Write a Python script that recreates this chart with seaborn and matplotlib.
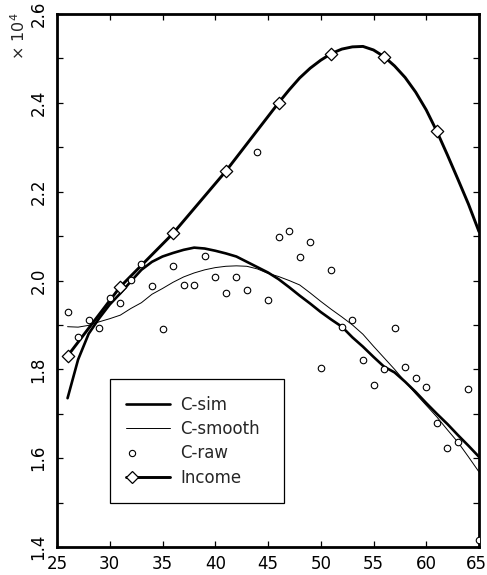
import numpy as np
import matplotlib
matplotlib.use("Agg")
import matplotlib.pyplot as plt
import matplotlib.transforms as mtransforms
from matplotlib.lines import Line2D
from matplotlib.legend_handler import HandlerLine2D
from matplotlib.ticker import MultipleLocator, FormatStrFormatter
import seaborn as sns

# Consumption profiles by age (values in units of 10^4)
ages = list(range(26, 66))

c_raw = [1.930, 1.873, 1.911, 1.893, 1.960, 1.950, 2.001, 2.038, 1.988, 1.891,
         2.033, 1.990, 1.990, 2.056, 2.009, 1.972, 2.008, 1.978, 2.289, 1.957,
         2.098, 2.112, 2.053, 2.086, 1.803, 2.023, 1.896, 1.911, 1.821, 1.764,
         1.801, 1.894, 1.806, 1.781, 1.761, 1.679, 1.624, 1.637, 1.756, 1.415]

c_sim = [1.735, 1.822, 1.880, 1.915, 1.946, 1.971, 1.998, 2.024, 2.042, 2.054,
         2.062, 2.069, 2.074, 2.072, 2.067, 2.061, 2.054, 2.042, 2.030, 2.018,
         2.003, 1.985, 1.966, 1.948, 1.929, 1.912, 1.896, 1.872, 1.851, 1.828,
         1.806, 1.793, 1.772, 1.749, 1.724, 1.700, 1.677, 1.652, 1.628, 1.603]

c_smooth = [1.896, 1.895, 1.899, 1.907, 1.914, 1.922, 1.937, 1.950, 1.969, 1.982,
            1.996, 2.008, 2.017, 2.024, 2.029, 2.032, 2.033, 2.032, 2.026, 2.016,
            2.009, 2.000, 1.990, 1.972, 1.953, 1.935, 1.918, 1.900, 1.879, 1.852,
            1.826, 1.800, 1.772, 1.745, 1.719, 1.693, 1.664, 1.636, 1.603, 1.569]

# Income profile
income_ages = [26, 31, 36, 41, 46, 47, 48, 49, 50, 51, 52, 53, 54, 55, 56,
               57, 58, 59, 60, 61, 62, 63, 64, 65]
income = [1.830, 1.986, 2.106, 2.246, 2.400, 2.429, 2.456, 2.478, 2.496, 2.511,
          2.521, 2.526, 2.527, 2.519, 2.504, 2.483, 2.457, 2.424, 2.384, 2.336,
          2.283, 2.228, 2.172, 2.110]
income_marker_ages = [26, 31, 36, 41, 46, 51, 56, 61]

x_ticks = [25, 30, 35, 40, 45, 50, 55, 60, 65]
y_ticks = [1.4, 1.6, 1.8, 2.0, 2.2, 2.4, 2.6]

series_labels = ["C-sim", "C-smooth", "C-raw", "Income"]

sns.set_theme(style="ticks")
plt.rcParams["font.family"] = ["DejaVu Sans"]
plt.rcParams["mathtext.default"] = "regular"

W, H = 487, 575
fig = plt.figure(figsize=(W / 100, H / 100), dpi=100)
ax = fig.add_axes([57 / W, 1 - 547 / H, (479 - 57) / W, (547 - 14) / H])

sns.lineplot(x=ages, y=c_sim, ax=ax, color="black", linewidth=1.9,
             estimator=None, sort=False)
sns.lineplot(x=ages, y=c_smooth, ax=ax, color="black", linewidth=0.7,
             estimator=None, sort=False)
sns.scatterplot(x=ages, y=c_raw, ax=ax, marker="o", s=22, facecolor="white",
                edgecolor="black", linewidth=0.8, zorder=3, clip_on=True)
sns.lineplot(x=income_ages, y=income, ax=ax, color="black", linewidth=2.1,
             estimator=None, sort=False)
inc_lookup = dict(zip(income_ages, income))
sns.scatterplot(x=income_marker_ages, y=[inc_lookup[a] for a in income_marker_ages],
                ax=ax, marker="D", s=40, facecolor="white", edgecolor="black",
                linewidth=0.9, zorder=4)

ax.set_xlim(25, 65)
ax.set_ylim(1.4, 2.6)
ax.set_xticks(x_ticks)
ax.set_xticklabels([str(t) for t in x_ticks])
ax.set_yticks(y_ticks)
ax.yaxis.set_major_formatter(FormatStrFormatter("%.1f"))
ax.yaxis.set_minor_locator(MultipleLocator(0.1))

for side in ["left", "right", "top", "bottom"]:
    ax.spines[side].set_visible(True)
    ax.spines[side].set_linewidth(2.0)
    ax.spines[side].set_color("black")

ax.tick_params(which="both", direction="in", length=4, width=0.9,
               top=True, right=True, colors="black", labelsize=12)
ax.tick_params(axis="y", labelrotation=90, pad=7)
ax.tick_params(axis="x", pad=6)
for lab in ax.get_yticklabels():
    lab.set_va("center")

# keep the last age label inside the figure edge
last_lab = ax.get_xticklabels()[-1]
last_lab.set_transform(last_lab.get_transform() +
                       mtransforms.ScaledTranslation(-3 / 100, 0, fig.dpi_scale_trans))

fig.text(19 / W, 1 - 36 / H, "× 10$^{4}$", rotation=90, ha="center",
         va="center", fontsize=11.5)


class HandlerLeftMarker(HandlerLine2D):
    """Legend line with its marker placed near the left end."""

    def create_artists(self, legend, orig_handle, xdescent, ydescent,
                       width, height, fontsize, trans):
        x0 = -xdescent
        x1 = x0 + legend.handlelength * fontsize
        xdata = np.array([x0, x0 + 0.13 * (x1 - x0), x1])
        ydata = np.full_like(xdata, (height - ydescent) / 2)
        legline = Line2D(xdata, ydata, markevery=[1])
        self.update_prop(legline, orig_handle, legend)
        legline.set_transform(trans)
        return [legline]


handles = [
    Line2D([], [], color="black", linewidth=1.9),
    Line2D([], [], color="black", linewidth=0.7),
    Line2D([], [], linestyle="none", marker="o", markersize=4.5,
           markerfacecolor="white", markeredgecolor="black", markeredgewidth=0.8),
    Line2D([], [], color="black", linewidth=2.1, marker="D", markersize=6.5,
           markerfacecolor="white", markeredgecolor="black", markeredgewidth=0.9),
]
leg = ax.legend(handles, series_labels, loc="lower left",
                bbox_to_anchor=((110 - 57) / 422, (547 - 503) / 533,
                                (284 - 110) / 422, (503 - 380) / 533),
                mode="expand",
                borderaxespad=0, fontsize=12, frameon=True, fancybox=False,
                framealpha=1, edgecolor="black", handlelength=2.6,
                handletextpad=0.65, labelspacing=0.38, borderpad=0.98,
                handler_map={Line2D: HandlerLeftMarker()})
leg.get_frame().set_linewidth(0.9)

fig.savefig("out.png", dpi=100)
